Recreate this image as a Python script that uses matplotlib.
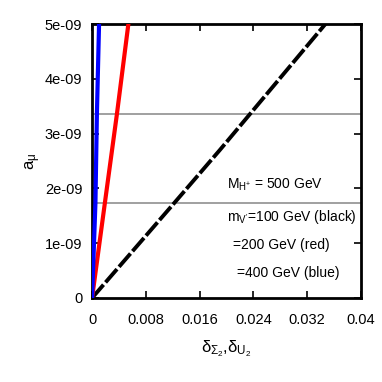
import matplotlib
matplotlib.use("Agg")
import matplotlib.pyplot as plt

fam = "Liberation Sans"
plt.rcParams['font.family'] = [fam, 'DejaVu Sans']
plt.rcParams['mathtext.fontset'] = 'custom'
plt.rcParams['mathtext.rm'] = fam
plt.rcParams['mathtext.it'] = fam
plt.rcParams['mathtext.sf'] = fam

# data
black_x = [0.0, 0.0122, 0.019, 0.0347]
black_y = [0.0, 1.73e-9, 2.7e-9, 5.0e-9]
red_x = [0.0, 0.0019, 0.0037, 0.0054]
red_y = [0.0, 1.73e-9, 3.36e-9, 5.0e-9]
blue_x = [0.0, 0.0005, 0.00072, 0.00104]
blue_y = [0.0, 1.73e-9, 3.36e-9, 5.0e-9]
hlines = [1.73e-9, 3.36e-9]
xticks = [0, 0.008, 0.016, 0.024, 0.032, 0.04]
xticklabels = ["0", "0.008", "0.016", "0.024", "0.032", "0.04"]
yticks = [0, 1e-9, 2e-9, 3e-9, 4e-9, 5e-9]
yticklabels = ["0", "1e-09", "2e-09", "3e-09", "4e-09", "5e-09"]

fig = plt.figure(figsize=(3.82, 3.82), dpi=100)
ax = fig.add_axes([0.241, 0.22, 0.704, 0.717])

for h in hlines:
    ax.axhline(h, color='#909090', lw=1.2, zorder=1)

ax.plot(black_x, black_y, color='black', lw=2.8, ls=(0, (4.5, 0.8)), zorder=3,
        solid_capstyle='butt')
ax.plot(red_x, red_y, color='red', lw=3.0, zorder=3)
ax.plot(blue_x, blue_y, color='blue', lw=3.0, zorder=3)

ax.set_xlim(0, 0.04)
ax.set_ylim(0, 5e-9)
ax.set_xticks(xticks)
ax.set_xticklabels(xticklabels)
ax.set_yticks(yticks)
ax.set_yticklabels(yticklabels)
ax.tick_params(direction='in', top=True, right=True, length=5, width=1.2,
               labelsize=10.5)
ax.tick_params(axis='x', pad=11)
ax.tick_params(axis='y', pad=7)
for s in ax.spines.values():
    s.set_linewidth(2)

ax.set_xlabel(r"$\delta_{\Sigma_2}$,$\delta_{U_2}$", fontsize=12, labelpad=8)
ax.set_ylabel(r"$\mathrm{a}_{\mu}$", fontsize=12, labelpad=1)

fs = 10
ax.text(0.0201, 2.06e-9, r"M$_{\mathrm{H}^{+}}$ = 500 GeV", fontsize=fs, va='center')
ax.text(0.0201, 1.48e-9, r"m$_{\mathrm{V}'}$=100 GeV (black)", fontsize=fs, va='center')
ax.text(0.0210, 0.97e-9, "=200 GeV (red)", fontsize=fs, va='center')
ax.text(0.0216, 0.46e-9, "=400 GeV (blue)", fontsize=fs, va='center')

fig.savefig("out.png", dpi=100)
